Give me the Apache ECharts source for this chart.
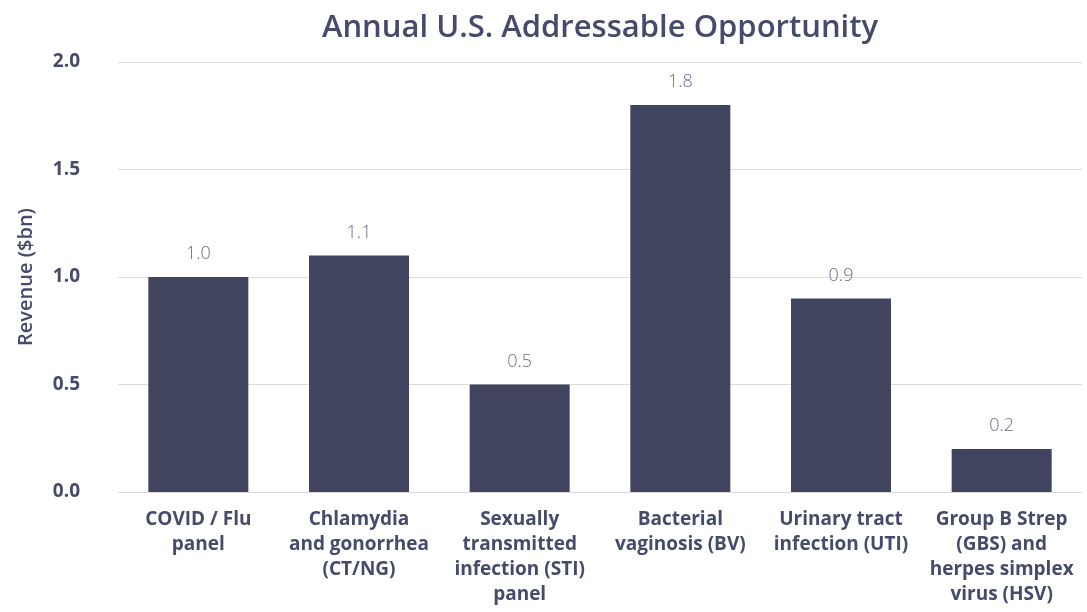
<!DOCTYPE html>
<html>
<head>
<meta charset="utf-8">
<script src="https://cdn.jsdelivr.net/npm/echarts@6/dist/echarts.min.js"></script>
<style>
html,body{margin:0;padding:0;background:#fff;}
#chart{width:1087px;height:612px;}
</style>
</head>
<body>
<div id="chart"></div>
<script>
const categories = [
  "COVID / Flu\npanel",
  "Chlamydia\nand gonorrhea\n(CT/NG)",
  "Sexually\ntransmitted\ninfection (STI)\npanel",
  "Bacterial\nvaginosis (BV)",
  "Urinary tract\ninfection (UTI)",
  "Group B Strep\n(GBS) and\nherpes simplex\nvirus (HSV)"
];
const revenue = [1.0, 1.1, 0.5, 1.8, 0.9, 0.2];
const yTicks = [0, 0.5, 1.0, 1.5, 2.0];

const chart = echarts.init(document.getElementById('chart'));
const textColor = '#464a6b';
chart.setOption({
  animation: false,
  backgroundColor: '#ffffff',
  title: {
    text: 'Annual U.S. Addressable Opportunity',
    left: 595,
    textAlign: 'center',
    top: 8,
    textStyle: {fontFamily: 'Open Sans', fontSize: 31, fontWeight: 600, color: textColor}
  },
  grid: {left: 118, right: 5, top: 62, bottom: 120},
  xAxis: {
    type: 'category',
    data: categories,
    axisTick: {show: false},
    axisLine: {lineStyle: {color: '#d9d9d9'}},
    axisLabel: {
      interval: 0, margin: 15, lineHeight: 25,
      fontFamily: 'Open Sans', fontSize: 19, fontWeight: 700, color: textColor
    }
  },
  yAxis: {
    type: 'value',
    min: yTicks[0], max: yTicks[yTicks.length - 1], interval: 0.5,
    name: 'Revenue ($bn)',
    nameLocation: 'middle',
    nameGap: 82,
    nameTextStyle: {fontFamily: 'Open Sans', fontSize: 20, fontWeight: 600, color: textColor},
    axisLine: {show: false},
    axisTick: {show: false},
    splitLine: {lineStyle: {color: '#dcdcdc', width: 1}},
    axisLabel: {
      margin: 38,
      formatter: v => v.toFixed(1),
      fontFamily: 'Open Sans', fontSize: 19, fontWeight: 700, color: textColor
    }
  },
  series: [{
    type: 'bar',
    data: revenue,
    barWidth: 100,
    itemStyle: {color: '#40445f'},
    label: {
      show: true, position: 'top', distance: 14,
      formatter: p => p.value.toFixed(1),
      fontFamily: 'Open Sans', fontSize: 18, fontWeight: 300, color: '#6b6e88'
    }
  }]
});
</script>
</body>
</html>
